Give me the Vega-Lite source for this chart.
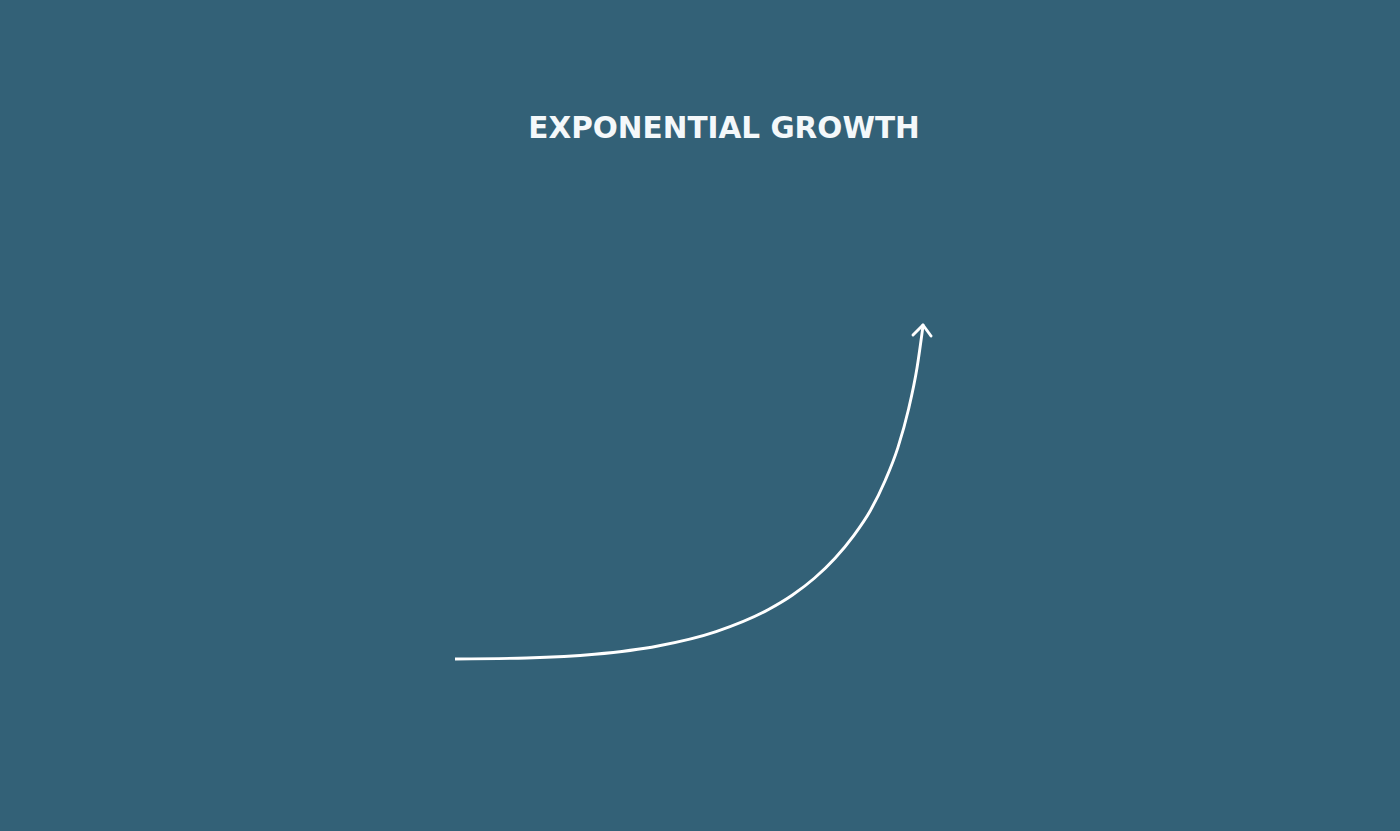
{
  "$schema": "https://vega.github.io/schema/vega-lite/v6.json",
  "width": 1400,
  "height": 831,
  "autosize": {"type": "fit", "contains": "padding"},
  "padding": 0,
  "background": "#336177",
  "config": {"view": {"stroke": null}},
  "datasets": {
    "curve": [
      {"t": 0, "v": 0},
      {"t": 71.7, "v": 1.0},
      {"t": 139.6, "v": 4.7},
      {"t": 202.9, "v": 13.0},
      {"t": 261.1, "v": 27.4},
      {"t": 313.5, "v": 49.5},
      {"t": 337.5, "v": 64.0},
      {"t": 359.6, "v": 81.0},
      {"t": 380.0, "v": 100.8},
      {"t": 398.7, "v": 123.4},
      {"t": 415.4, "v": 148.5},
      {"t": 430.2, "v": 178.5},
      {"t": 442.9, "v": 211.4},
      {"t": 453.6, "v": 250},
      {"t": 462, "v": 291},
      {"t": 468, "v": 333}
    ],
    "arrow": [
      {"t": 468, "v": 334, "t2": 458, "v2": 324},
      {"t": 468, "v": 334, "t2": 476, "v2": 323}
    ],
    "title": [{"t": 269, "v": 530, "label": "EXPONENTIAL GROWTH"}]
  },
  "layer": [
    {
      "data": {"name": "curve"},
      "mark": {"type": "line", "color": "#ffffff", "strokeWidth": 2.9, "interpolate": "monotone"},
      "encoding": {
        "x": {"field": "t", "type": "quantitative", "scale": {"domain": [-455, 945], "nice": false, "zero": false}, "axis": null},
        "y": {"field": "v", "type": "quantitative", "scale": {"domain": [-172, 659], "nice": false, "zero": false}, "axis": null}
      }
    },
    {
      "data": {"name": "arrow"},
      "mark": {"type": "rule", "color": "#ffffff", "strokeWidth": 2.9, "strokeCap": "round"},
      "encoding": {
        "x": {"field": "t", "type": "quantitative"},
        "y": {"field": "v", "type": "quantitative"},
        "x2": {"field": "t2"},
        "y2": {"field": "v2"}
      }
    },
    {
      "data": {"name": "title"},
      "mark": {"type": "text", "color": "#f4f8fa", "font": "DejaVu Sans", "fontWeight": "bold", "fontSize": 29.5, "baseline": "middle", "align": "center"},
      "encoding": {
        "x": {"field": "t", "type": "quantitative"},
        "y": {"field": "v", "type": "quantitative"},
        "text": {"field": "label"}
      }
    }
  ]
}
